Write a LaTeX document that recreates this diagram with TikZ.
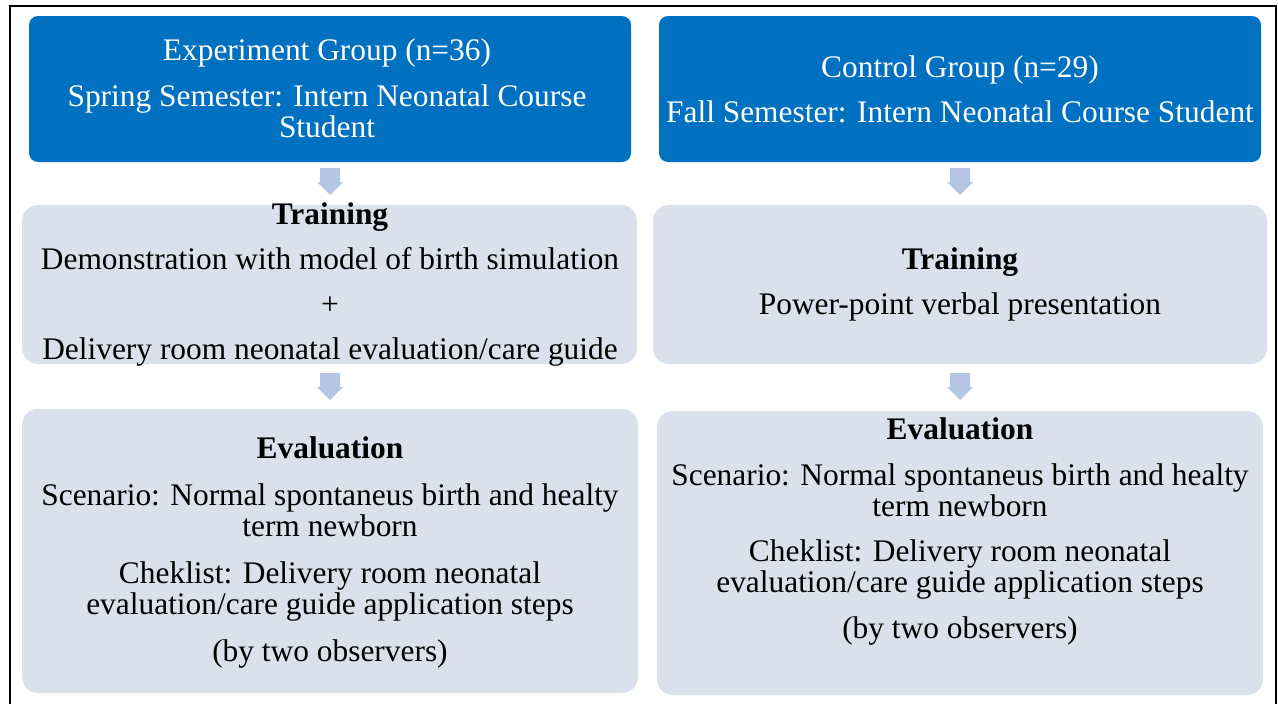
\documentclass[tikz,border=0pt]{standalone}
\usepackage{fontspec}
\setmainfont{Liberation Serif}
\definecolor{hdrblue}{HTML}{0070C0}
\definecolor{boxgray}{HTML}{DAE0EC}
\definecolor{arrowblue}{HTML}{B4C6E4}
\tikzset{pics/downarrow/.style={code={%
  \fill[arrowblue] (-10,0) -- (10,0) -- (10,14) -- (13,14) -- (0,27) -- (-13,14) -- (-10,14) -- cycle;}}}
\begin{document}
\begin{tikzpicture}[x=1pt,y=-1pt,
  hdrbox/.style={fill=hdrblue, draw=none, rounded corners=9pt, inner sep=0pt, outer sep=0pt},
  graybox/.style={fill=boxgray, draw=none, rounded corners=16pt, inner sep=0pt, outer sep=0pt},
  bodytext/.style={align=center, inner sep=0pt, font=\fontsize{31.4pt}{31pt}\selectfont, text=black},
  hdrtext/.style={bodytext, text=white}
]
\useasboundingbox (0,0) rectangle (1278,704);
% outer frame
\draw[line width=2.5pt] (10,720) -- (10,6) -- (1276,6) -- (1276,720);

% boxes
\node[hdrbox, minimum width=602pt, minimum height=146pt] (blueL) at (330,89) {};
\node[hdrbox, minimum width=602pt, minimum height=146pt] (blueR) at (960,89) {};
\node[graybox, minimum width=615pt, minimum height=159pt] (trainL) at (329.5,284.5) {};
\node[graybox, minimum width=614pt, minimum height=159pt] (trainR) at (960,284.5) {};
\node[graybox, minimum width=616pt, minimum height=284pt] (evalL) at (330,551) {};
\node[graybox, minimum width=606pt, minimum height=284pt] (evalR) at (960,553) {};

% block arrows
\pic (arrL1) at (330,168) {downarrow};
\pic (arrR1) at (960,168) {downarrow};
\pic (arrL2) at (330,373) {downarrow};
\pic (arrR2) at (960,373) {downarrow};

% texts
\node[hdrtext] (blueLtext) at (327,88.5) {Experiment Group (n=36)\\[15pt]Spring Semester: Intern Neonatal Course\\Student};
\node[hdrtext] (blueRtext) at (960,89.5) {Control Group (n=29)\\[14pt]Fall Semester: Intern Neonatal Course Student};
\node[bodytext] (trainLtext) at (330,284.5) {\textbf{Training}\\[14pt]Demonstration with model of birth simulation\\[14pt]+\\[14pt]Delivery room neonatal evaluation/care guide};
\node[bodytext] (trainRtext) at (960,284.5) {\textbf{Training}\\[14pt]Power-point verbal presentation};
\node[bodytext] (evalLtext) at (330,552) {\textbf{Evaluation}\\[16pt]Scenario: Normal spontaneus birth and healty\\term newborn\\[16pt]Cheklist: Delivery room neonatal\\evaluation/care guide application steps\\[16pt](by two observers)};
\node[bodytext] (evalRtext) at (960,531) {\textbf{Evaluation}\\[15pt]Scenario: Normal spontaneus birth and healty\\term newborn\\[14pt]Cheklist: Delivery room neonatal\\evaluation/care guide application steps\\[15pt](by two observers)};
\end{tikzpicture}
\end{document}
